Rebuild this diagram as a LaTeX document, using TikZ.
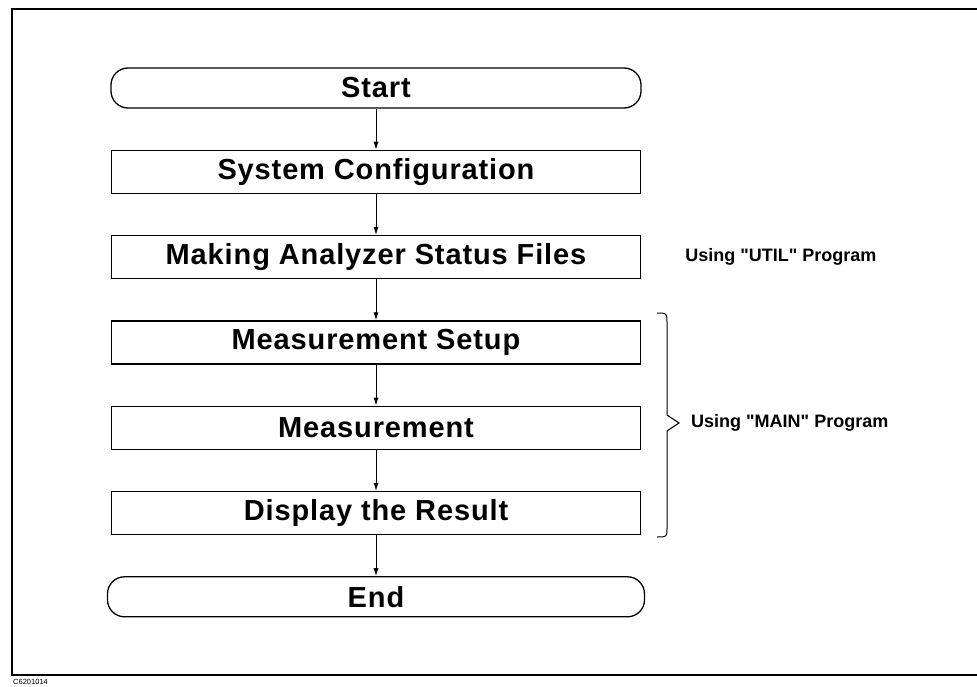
\documentclass[tikz,border=0pt]{standalone}
\usepackage{fontspec}
\setmainfont{Liberation Sans}
\usetikzlibrary{positioning,arrows.meta}
\tikzset{
  box/.style={draw, line width=1.3pt, minimum width=529pt, minimum height=43pt, inner sep=0pt,
    font=\fontsize{29}{31}\selectfont\bfseries\addfontfeatures{LetterSpace=3}},
  term/.style={box, rounded corners=17pt, minimum height=40pt},
  lab/.style={font=\fontsize{18}{20}\selectfont\bfseries, inner sep=0pt},
  flow/.style={-{Latex[length=8pt,width=5pt]}, line width=0.9pt},
}

\begin{document}
\begin{tikzpicture}[x=1pt, y=1pt, node distance=41pt]
    \useasboundingbox (0,0) rectangle (977,-687);
    % frame, open on the right
    \draw[line width=2.6pt] (995,-9) -- (12,-9) -- (12,-675) -- (995,-675);
    \node[font=\fontsize{7.5}{8}\selectfont, anchor=west, inner sep=0pt] (code) at (13,-682) {C6201014};
    \node[term, minimum width=530pt] (start) at (376,-88) {Start};
    \node[box, below=of start] (cfg) {System Configuration};
    \node[box, below=of cfg] (files) {Making Analyzer Status Files};
    \node[box, below=of files] (setup) {Measurement Setup};
    \node[box, below=of setup] (meas) {Measurement};
    \node[box, below=of meas] (disp) {Display the Result};
    \node[term, minimum width=537pt, below=of disp] (stop) {End};
    \draw[flow] (start) -- (cfg); \draw[flow] (cfg) -- (files); \draw[flow] (files) -- (setup);
    \draw[flow] (setup) -- (meas); \draw[flow] (meas) -- (disp); \draw[flow] (disp) -- (stop);
    \node[lab, right=44pt of files] (util) {Using \textquotedbl UTIL\textquotedbl{} Program};
    % brace over the last three steps
    \coordinate (tip) at (679,-423);
    \draw[line width=1pt] (657,-313) .. controls (667,-313) .. (667,-323) -- (667,-415) -- (tip)
      -- (667,-431) -- (667,-528) .. controls (667,-537) .. (657,-537);
    \node[lab, right=12pt of tip] (main) {Using \textquotedbl MAIN\textquotedbl{} Program};
\end{tikzpicture}
\end{document}
